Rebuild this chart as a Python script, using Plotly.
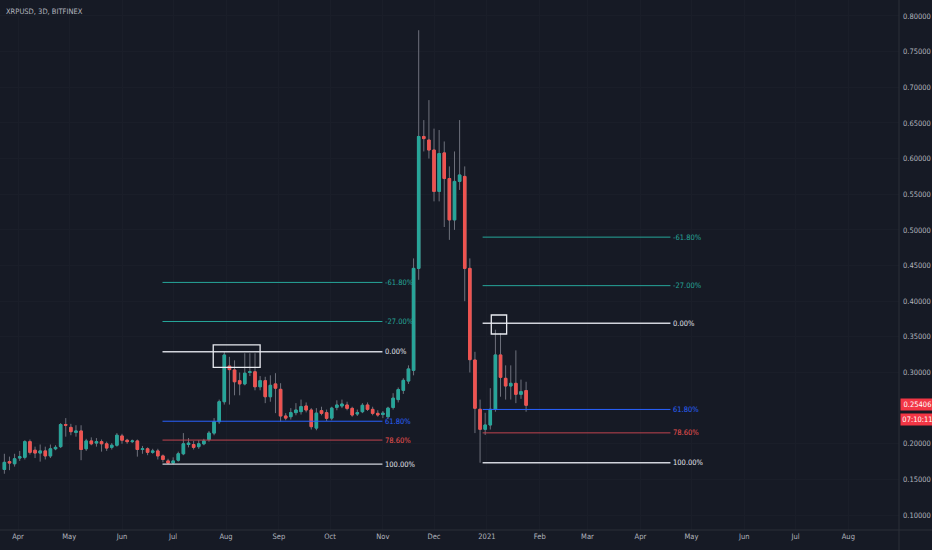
import plotly.graph_objects as go
import pandas as pd

# ---------------- data ----------------
last_candle_date = "2021-01-24"
n_candles = 103
dates = pd.date_range(end=last_candle_date, periods=n_candles, freq="3D")

opens = [0.164, 0.175, 0.172, 0.180, 0.181, 0.203, 0.191, 0.187, 0.190, 0.183,
         0.193, 0.196, 0.227, 0.223, 0.216, 0.218, 0.193, 0.204, 0.201, 0.203,
         0.200, 0.195, 0.198, 0.211, 0.205, 0.203, 0.204, 0.192, 0.193, 0.188,
         0.190, 0.183, 0.176, 0.173, 0.177, 0.186, 0.199, 0.199, 0.196, 0.200,
         0.206, 0.215, 0.231, 0.259, 0.309, 0.3035, 0.2885, 0.284, 0.300, 0.301,
         0.280, 0.2885, 0.266, 0.284, 0.2764, 0.239, 0.238, 0.2437, 0.2451, 0.253,
         0.2474, 0.222, 0.2465, 0.2437, 0.236, 0.2511, 0.253, 0.2544, 0.2497, 0.2418,
         0.245, 0.2544, 0.2483, 0.2427, 0.241, 0.238, 0.251, 0.262, 0.275, 0.288,
         0.303, 0.446, 0.631, 0.626, 0.612, 0.554, 0.608, 0.572, 0.514, 0.568,
         0.575, 0.446, 0.3175, 0.2484, 0.2203, 0.2264, 0.2484, 0.3246, 0.2918, 0.2811,
         0.2848, 0.2694, 0.2746]
highs = [0.186, 0.182, 0.186, 0.190, 0.205, 0.206, 0.196, 0.199, 0.196, 0.199,
         0.198, 0.229, 0.236, 0.228, 0.226, 0.226, 0.207, 0.209, 0.208, 0.206,
         0.203, 0.201, 0.215, 0.214, 0.207, 0.206, 0.206, 0.197, 0.195, 0.193,
         0.193, 0.185, 0.179, 0.181, 0.189, 0.215, 0.208, 0.204, 0.205, 0.207,
         0.218, 0.236, 0.262, 0.329, 0.322, 0.317, 0.300, 0.327, 0.327, 0.327,
         0.295, 0.294, 0.296, 0.299, 0.285, 0.243, 0.250, 0.257, 0.262, 0.258,
         0.250, 0.250, 0.252, 0.248, 0.252, 0.261, 0.262, 0.259, 0.252, 0.248,
         0.257, 0.258, 0.252, 0.247, 0.246, 0.252, 0.271, 0.279, 0.292, 0.310,
         0.460, 0.780, 0.654, 0.682, 0.642, 0.640, 0.624, 0.589, 0.610, 0.654,
         0.589, 0.460, 0.329, 0.262, 0.2435, 0.278, 0.360, 0.355, 0.310, 0.310,
         0.331, 0.290, 0.287]
lows = [0.158, 0.163, 0.168, 0.176, 0.178, 0.185, 0.180, 0.175, 0.178, 0.180,
        0.191, 0.194, 0.210, 0.212, 0.210, 0.177, 0.190, 0.198, 0.196, 0.189,
        0.190, 0.192, 0.196, 0.200, 0.200, 0.201, 0.182, 0.186, 0.184, 0.186,
        0.178, 0.174, 0.1715, 0.171, 0.175, 0.184, 0.195, 0.192, 0.193, 0.198,
        0.203, 0.212, 0.228, 0.255, 0.255, 0.268, 0.268, 0.282, 0.295, 0.275,
        0.275, 0.257, 0.259, 0.243, 0.231, 0.233, 0.234, 0.240, 0.241, 0.244,
        0.220, 0.219, 0.240, 0.232, 0.233, 0.247, 0.250, 0.247, 0.238, 0.239,
        0.243, 0.246, 0.240, 0.238, 0.236, 0.235, 0.248, 0.258, 0.270, 0.284,
        0.296, 0.430, 0.610, 0.600, 0.540, 0.540, 0.504, 0.486, 0.500, 0.556,
        0.400, 0.300, 0.215, 0.1735, 0.2124, 0.220, 0.245, 0.266, 0.262, 0.262,
        0.257, 0.263, 0.245]
closes = [0.174, 0.173, 0.179, 0.182, 0.203, 0.188, 0.187, 0.190, 0.183, 0.193,
          0.195, 0.227, 0.226, 0.217, 0.218, 0.192, 0.204, 0.200, 0.203, 0.200,
          0.194, 0.198, 0.212, 0.205, 0.203, 0.204, 0.192, 0.193, 0.188, 0.190,
          0.183, 0.178, 0.173, 0.176, 0.186, 0.200, 0.201, 0.195, 0.200, 0.204,
          0.215, 0.231, 0.259, 0.3245, 0.304, 0.287, 0.284, 0.299, 0.301, 0.280,
          0.2885, 0.266, 0.282, 0.278, 0.239, 0.236, 0.2437, 0.2474, 0.2521, 0.2474,
          0.224, 0.243, 0.2427, 0.2357, 0.250, 0.2544, 0.2558, 0.2497, 0.2404, 0.2437,
          0.254, 0.2483, 0.2427, 0.2404, 0.243, 0.250, 0.264, 0.276, 0.289, 0.305,
          0.446, 0.631, 0.628, 0.612, 0.554, 0.607, 0.572, 0.514, 0.568, 0.577,
          0.446, 0.318, 0.2498, 0.2203, 0.2264, 0.2484, 0.3246, 0.2932, 0.2811, 0.2848,
          0.2694, 0.2731, 0.25406]

# Fibonacci retracement tools
fib_ratios = [-0.618, -0.27, 0.0, 0.618, 0.786, 1.0]
fib_labels = ["-61.80%", "-27.00%", "0.00%", "61.80%", "78.60%", "100.00%"]
fib1_level0, fib1_level100 = 0.329, 0.1715
fib1_start, fib1_end = "2020-06-24 18:00", "2020-10-31 18:00"
fib2_level0, fib2_level100 = 0.369, 0.1735
fib2_start, fib2_end = "2020-12-29 12:00", "2021-04-18 16:00"

# highlight boxes
box1 = dict(x0="2020-07-24 12:00", x1="2020-08-21", y0=0.3073, y1=0.3386)
box2 = dict(x0="2021-01-03 14:00", x1="2021-01-12 14:00", y0=0.354, y1=0.3806)

month_ticks = ["2020-04-01", "2020-05-01", "2020-06-01", "2020-07-01", "2020-08-01",
               "2020-09-01", "2020-10-01", "2020-11-01", "2020-12-01", "2021-01-01",
               "2021-02-01", "2021-03-01", "2021-04-01", "2021-05-01", "2021-06-01",
               "2021-07-01", "2021-08-01"]
month_labels = ["Apr", "May", "Jun", "Jul", "Aug", "Sep", "Oct", "Nov", "Dec", "2021",
                "Feb", "Mar", "Apr", "May", "Jun", "Jul", "Aug"]
# 0.25000 is hidden behind the last-price tag in the reference
price_ticks = [0.10, 0.15, 0.20, 0.30, 0.35, 0.40, 0.45, 0.50, 0.55,
               0.60, 0.65, 0.70, 0.75, 0.80]

title_text = "XRPUSD, 3D, BITFINEX"
countdown_text = "07:10:11"

# ---------------- styles ----------------
BG = "#161a25"
GRID = "#1a1e29"
SEP = "#2a2e39"
TXT = "#b2b5be"
UP = "#26a69a"
DOWN = "#ef5350"
WICK = "#6e717c"
FONT = "Liberation Sans Narrow, DejaVu Sans Condensed, Arial Narrow, Roboto, sans-serif"
fib_line_colors = ["#26a69a", "#26a69a", "#d1d4dc", "#2962ff", "#c0444f", "#d1d4dc"]
fib_text_colors = ["#26a69a", "#26a69a", "#e0e3eb", "#2962ff", "#ef5350", "#e0e3eb"]
fib_widths = [1, 1, 1.4, 1, 1, 1.4]

fig = go.Figure()

# wicks (gray)
fig.add_trace(go.Candlestick(
    x=dates, open=opens, high=highs, low=lows, close=closes,
    increasing=dict(line=dict(color=WICK, width=1), fillcolor=WICK),
    decreasing=dict(line=dict(color=WICK, width=1), fillcolor=WICK),
    hoverinfo="skip", showlegend=False,
))
# bodies (coloured)
body_hi = [max(o, c) for o, c in zip(opens, closes)]
body_lo = [min(o, c) for o, c in zip(opens, closes)]
fig.add_trace(go.Candlestick(
    x=dates, open=opens, high=body_hi, low=body_lo, close=closes,
    increasing=dict(line=dict(color=UP, width=1), fillcolor=UP),
    decreasing=dict(line=dict(color=DOWN, width=1), fillcolor=DOWN),
    hoverinfo="skip", showlegend=False,
))

annotations = []
for (l0, l100, xs, xe) in [(fib1_level0, fib1_level100, fib1_start, fib1_end),
                           (fib2_level0, fib2_level100, fib2_start, fib2_end)]:
    for r, lab, lc, tc, w in zip(fib_ratios, fib_labels, fib_line_colors, fib_text_colors, fib_widths):
        lvl = l0 - r * (l0 - l100)
        fig.add_trace(go.Scatter(x=[xs, xe], y=[lvl, lvl], mode="lines",
                                 line=dict(color=lc, width=w),
                                 hoverinfo="skip", showlegend=False))
        annotations.append(dict(x=xe, y=lvl, xref="x", yref="y", text=lab,
                                showarrow=False, xanchor="left", yanchor="middle",
                                xshift=1, font=dict(family=FONT, size=7.5, color=tc)))

shapes = []
for b in (box1, box2):
    shapes.append(dict(type="rect", xref="x", yref="y", line=dict(color="#e8eaf0", width=1.3),
                       fillcolor="rgba(0,0,0,0)", **b))
# axis separators
shapes.append(dict(type="line", xref="paper", yref="paper", x0=0, x1=1.05, y0=0, y1=0,
                   line=dict(color=SEP, width=1)))
shapes.append(dict(type="line", xref="paper", yref="paper", x0=1, x1=1, y0=-0.05, y1=1,
                   line=dict(color=SEP, width=1)))

annotations.append(dict(x=0.004, y=0.979, xref="paper", yref="paper", text=title_text,
                        showarrow=False, xanchor="left", yanchor="middle",
                        font=dict(family=FONT, size=7.5, color=TXT)))
annotations.append(dict(x=1, y=closes[-1], xref="paper", yref="y",
                        text=f"{closes[-1]:.5f}", showarrow=False, xanchor="left",
                        yanchor="middle", xshift=1, yshift=1, bgcolor="#f23645", width=31,
                        borderpad=1, font=dict(family=FONT, size=7.5, color="#ffffff")))
annotations.append(dict(x=1, y=closes[-1], xref="paper", yref="y",
                        text=countdown_text, showarrow=False, xanchor="left",
                        yanchor="middle", xshift=1, yshift=-14, bgcolor="#f23645", width=31,
                        borderpad=1, font=dict(family=FONT, size=7.5, color="#ffffff")))

fig.update_layout(
    width=932, height=550,
    margin=dict(l=0, r=33, t=0, b=20),
    paper_bgcolor=BG, plot_bgcolor=BG,
    showlegend=False,
    hovermode=False,
    shapes=shapes,
    annotations=annotations,
    xaxis=dict(type="date", range=["2020-03-21 10:30", "2021-08-30 17:00"],
               rangeslider=dict(visible=False),
               tickmode="array", tickvals=month_ticks, ticktext=month_labels,
               showgrid=True, gridcolor=GRID, zeroline=False, showline=False,
               ticks="", tickfont=dict(family=FONT, size=7.5, color=TXT)),
    yaxis=dict(side="right", range=[0.0791, 0.8224],
               tickmode="array", tickvals=price_ticks,
               ticktext=[f"{v:.5f}" for v in price_ticks],
               showgrid=True, gridcolor=GRID, zeroline=False, showline=False,
               ticks="", ticklabelstandoff=3,
               tickfont=dict(family=FONT, size=7.5, color=TXT)),
)

fig.write_html("out.html", config={"displayModeBar": False},
               post_script="document.body.style.margin='0';document.body.style.overflow='hidden';")
